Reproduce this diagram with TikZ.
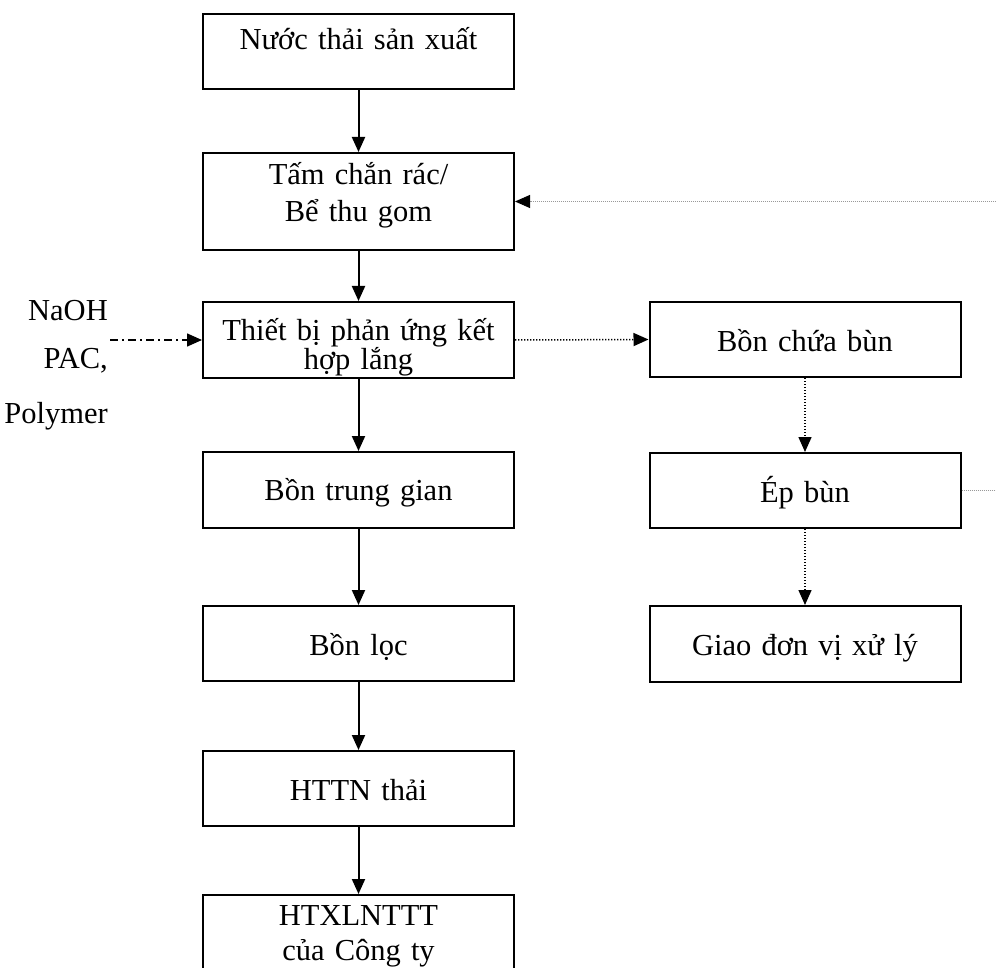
\documentclass[tikz,border=0pt]{standalone}
\usepackage{fontspec}
\setmainfont{Liberation Serif}
\usetikzlibrary{arrows.meta}

\tikzset{
  txtfont/.style={font=\fontsize{30.5}{#1}\selectfont},
  box/.style={draw, line width=2pt, minimum width=311pt, inner sep=0pt,
    text width=300pt, align=center, txtfont=37},
  flow/.style={line width=2pt, -{Triangle[length=15pt,width=13pt]}},
  sludge/.style={flow, line width=1.5pt, dash pattern=on 1.3pt off 1.7pt},
  dosing/.style={flow, line width=1.5pt, dash pattern=on 8pt off 4pt on 2pt off 4pt},
  recycle/.style={line width=0.9pt, draw=black!40, dash pattern=on 1pt off 1pt},
  chem/.style={anchor=base east, inner sep=0pt, txtfont=37},
}

\begin{document}
\lineskiplimit=-100pt
\begin{tikzpicture}[x=1pt, y=-1pt]
\useasboundingbox (0,0) rectangle (996,968);
\clip (0,0) rectangle (996,968);

% main water line
\node[box, minimum height=75pt, text height=0pt, text depth=3pt]
  (source) at (358.5,51.5) {Nước thải sản xuất};
\node[box, minimum height=97pt, text height=0pt, text depth=33pt]
  (screen) at (358.5,201.5) {Tấm chắn rác/\\Bể thu gom};
\node[box, minimum height=76pt, text height=2pt, text depth=0pt, txtfont=29]
  (reactor) at (358.5,340) {Thiết bị phản ứng kết\\hợp lắng};
\node[box, minimum height=76pt, text height=20pt, text depth=0pt]
  (buffer) at (358.5,490) {Bồn trung gian};
\node[box, minimum height=75pt, text height=23pt, text depth=0pt]
  (filter) at (358.5,643.5) {Bồn lọc};
\node[box, minimum height=75pt, text height=23pt, text depth=0pt]
  (drain) at (358.5,788.5) {HTTN thải};
\node[box, minimum height=90pt, text height=0pt, text depth=30pt, txtfont=35]
  (plant) at (358.5,940) {HTXLNTTT\\của Công ty};

% sludge line
\node[box, minimum height=75pt, text height=25pt, text depth=0pt]
  (sludgetank) at (805,339.5) {Bồn chứa bùn};
\node[box, minimum height=75pt, text height=23pt, text depth=0pt]
  (press) at (805,490.5) {Ép bùn};
\node[box, minimum height=76pt, text height=22pt, text depth=0pt]
  (disposal) at (805,644) {Giao đơn vị xử lý};

% chemicals
\node[chem] (naoh) at (108,320) {NaOH};
\node[chem] (pac) at (108,368) {PAC,};
\node[chem] (polymer) at (108,423) {Polymer};
\coordinate (dose) at (110,340);

% filtrate return
\coordinate (retbot) at (996,490.5);
\coordinate (rettop) at (996,201.5);

% connectors
\draw[flow] (source) -- (screen);
\draw[flow] (screen) -- (reactor);
\draw[flow] (reactor) -- (buffer);
\draw[flow] (buffer) -- (filter);
\draw[flow] (filter) -- (drain);
\draw[flow] (drain) -- (plant);

\draw[dosing] (dose) -- (reactor.west);
\draw[sludge] (reactor.east) -- (sludgetank.west);
\draw[sludge] (sludgetank) -- (press);
\draw[sludge] (press) -- (disposal);

\draw[recycle] (press.east) -- (retbot);
\draw[recycle, -{Triangle[length=15pt,width=13pt,color=black]}] (rettop) -- (screen.east);
\end{tikzpicture}
\end{document}
